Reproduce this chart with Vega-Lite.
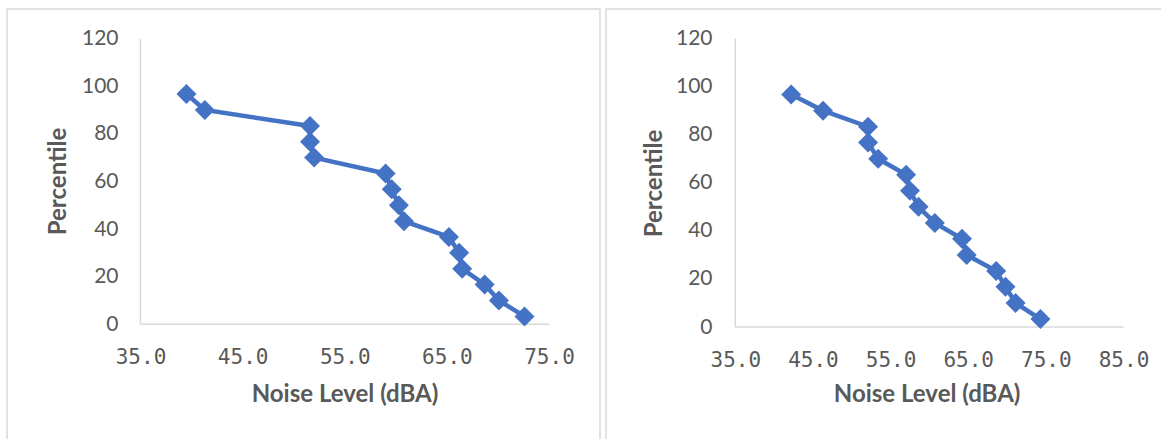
{
  "$schema": "https://vega.github.io/schema/vega-lite/v6.json",
  "padding": {"left": 6, "top": 8, "right": 0, "bottom": 0},
  "background": "white",
  "spacing": 4,
  "datasets": {
    "noise": [
      {"panel": "A", "noise": 39.5, "percentile": 96.7},
      {"panel": "A", "noise": 41.3, "percentile": 90.0},
      {"panel": "A", "noise": 51.6, "percentile": 83.3},
      {"panel": "A", "noise": 51.6, "percentile": 76.7},
      {"panel": "A", "noise": 52.0, "percentile": 70.0},
      {"panel": "A", "noise": 59.0, "percentile": 63.3},
      {"panel": "A", "noise": 59.6, "percentile": 56.7},
      {"panel": "A", "noise": 60.3, "percentile": 50.0},
      {"panel": "A", "noise": 60.8, "percentile": 43.3},
      {"panel": "A", "noise": 65.2, "percentile": 36.7},
      {"panel": "A", "noise": 66.2, "percentile": 30.0},
      {"panel": "A", "noise": 66.5, "percentile": 23.3},
      {"panel": "A", "noise": 68.7, "percentile": 16.7},
      {"panel": "A", "noise": 70.1, "percentile": 10.0},
      {"panel": "A", "noise": 72.6, "percentile": 3.3},
      {"panel": "B", "noise": 42.2, "percentile": 96.7},
      {"panel": "B", "noise": 46.3, "percentile": 90.0},
      {"panel": "B", "noise": 52.1, "percentile": 83.3},
      {"panel": "B", "noise": 52.1, "percentile": 76.7},
      {"panel": "B", "noise": 53.4, "percentile": 70.0},
      {"panel": "B", "noise": 57.0, "percentile": 63.3},
      {"panel": "B", "noise": 57.5, "percentile": 56.7},
      {"panel": "B", "noise": 58.6, "percentile": 50.0},
      {"panel": "B", "noise": 60.7, "percentile": 43.3},
      {"panel": "B", "noise": 64.2, "percentile": 36.7},
      {"panel": "B", "noise": 64.8, "percentile": 30.0},
      {"panel": "B", "noise": 68.6, "percentile": 23.3},
      {"panel": "B", "noise": 69.8, "percentile": 16.7},
      {"panel": "B", "noise": 71.1, "percentile": 10.0},
      {"panel": "B", "noise": 74.3, "percentile": 3.3}
    ],
    "axisLines": [
      {"panel": "A", "noise": 35, "noise2": 75, "percentile": 0, "percentile2": 0},
      {"panel": "A", "noise": 35, "noise2": 35, "percentile": 0, "percentile2": 120},
      {"panel": "B", "noise": 35, "noise2": 85, "percentile": 0, "percentile2": 0},
      {"panel": "B", "noise": 35, "noise2": 35, "percentile": 0, "percentile2": 120}
    ]
  },
  "hconcat": [
    {
      "width": 593,
      "height": 431,
      "encoding": {
        "x": {
          "field": "noise", "type": "quantitative",
          "scale": {"domain": [21.928, 79.994], "nice": false, "zero": false},
          "axis": {
            "values": [35, 45, 55, 65, 75], "format": ".1f", "title": "Noise Level (dBA)",
            "domain": false, "ticks": false, "tickSize": 0, "labelPadding": 0, "grid": false,
            "offset": -76.3, "labelBaseline": "alphabetic", "labelFlush": false, "labelOverlap": false,
            "labelFont": "DejaVu Sans Mono", "labelFontSize": 21, "labelColor": "#595959",
            "titleX": 337.5, "titleY": 38, "titleBaseline": "alphabetic", "titleAlign": "center",
            "titleFont": "Lato", "titleFontSize": 24, "titleFontWeight": "bold", "titleColor": "#595959"
          }
        },
        "y": {
          "field": "percentile", "type": "quantitative",
          "scale": {"domain": [-48.58, 132.386], "nice": false, "zero": false},
          "axis": {
            "values": [0, 20, 40, 60, 80, 100, 120], "title": "Percentile",
            "domain": false, "ticks": false, "tickSize": 0, "labelPadding": 0, "grid": false,
            "offset": -111, "labelFlush": false, "labelOverlap": false,
            "labelFont": "Lato", "labelFontSize": 21, "labelColor": "#595959",
            "titleX": -60, "titleY": 172, "titleAngle": 270, "titleAlign": "center", "titleBaseline": "middle",
            "titleFont": "Lato", "titleFontSize": 24, "titleFontWeight": "bold", "titleColor": "#595959"
          }
        }
      },
      "layer": [
        {
          "data": {"name": "axisLines"},
          "transform": [{"filter": "datum.panel === 'A'"}],
          "mark": {"type": "rule", "color": "#d9d9d9", "strokeWidth": 1.5},
          "encoding": {
            "x2": {"field": "noise2"},
            "y2": {"field": "percentile2"}
          }
        },
        {
          "data": {"name": "noise"},
          "transform": [{"filter": "datum.panel === 'A'"}],
          "mark": {"type": "line", "color": "#4472C4", "strokeWidth": 4.5},
          "encoding": {
            "order": {"field": "percentile", "sort": "descending"}
          }
        },
        {
          "data": {"name": "noise"},
          "transform": [{"filter": "datum.panel === 'A'"}],
          "mark": {"type": "point", "shape": "diamond", "filled": true, "color": "#4472C4", "size": 400, "opacity": 1},
          "encoding": {}
        }
      ]
    },
    {
      "width": 558,
      "height": 431,
      "encoding": {
        "x": {
          "field": "noise", "type": "quantitative",
          "scale": {"domain": [18.346, 90.216], "nice": false, "zero": false},
          "axis": {
            "values": [35, 45, 55, 65, 75, 85], "format": ".1f", "title": "Noise Level (dBA)",
            "domain": false, "ticks": false, "tickSize": 0, "labelPadding": 0, "grid": false,
            "offset": -74, "labelBaseline": "alphabetic", "labelFlush": false, "labelOverlap": false,
            "labelFont": "DejaVu Sans Mono", "labelFontSize": 21, "labelColor": "#595959",
            "titleX": 320.6, "titleY": 35.7, "titleBaseline": "alphabetic", "titleAlign": "center",
            "titleFont": "Lato", "titleFontSize": 24, "titleFontWeight": "bold", "titleColor": "#595959"
          }
        },
        "y": {
          "field": "percentile", "type": "quantitative",
          "scale": {"domain": [-47.0, 132.27], "nice": false, "zero": false},
          "axis": {
            "values": [0, 20, 40, 60, 80, 100, 120], "title": "Percentile",
            "domain": false, "ticks": false, "tickSize": 0, "labelPadding": 0, "grid": false,
            "offset": -106, "labelFlush": false, "labelOverlap": false,
            "labelFont": "Lato", "labelFontSize": 21, "labelColor": "#595959",
            "titleX": -58, "titleY": 174, "titleAngle": 270, "titleAlign": "center", "titleBaseline": "middle",
            "titleFont": "Lato", "titleFontSize": 24, "titleFontWeight": "bold", "titleColor": "#595959"
          }
        }
      },
      "layer": [
        {
          "data": {"name": "axisLines"},
          "transform": [{"filter": "datum.panel === 'B'"}],
          "mark": {"type": "rule", "color": "#d9d9d9", "strokeWidth": 1.5},
          "encoding": {
            "x2": {"field": "noise2"},
            "y2": {"field": "percentile2"}
          }
        },
        {
          "data": {"name": "noise"},
          "transform": [{"filter": "datum.panel === 'B'"}],
          "mark": {"type": "line", "color": "#4472C4", "strokeWidth": 4.5},
          "encoding": {
            "order": {"field": "percentile", "sort": "descending"}
          }
        },
        {
          "data": {"name": "noise"},
          "transform": [{"filter": "datum.panel === 'B'"}],
          "mark": {"type": "point", "shape": "diamond", "filled": true, "color": "#4472C4", "size": 400, "opacity": 1},
          "encoding": {}
        }
      ]
    }
  ],
  "config": {
    "view": {"stroke": "#d9d9d9", "strokeWidth": 1.5}
  }
}
